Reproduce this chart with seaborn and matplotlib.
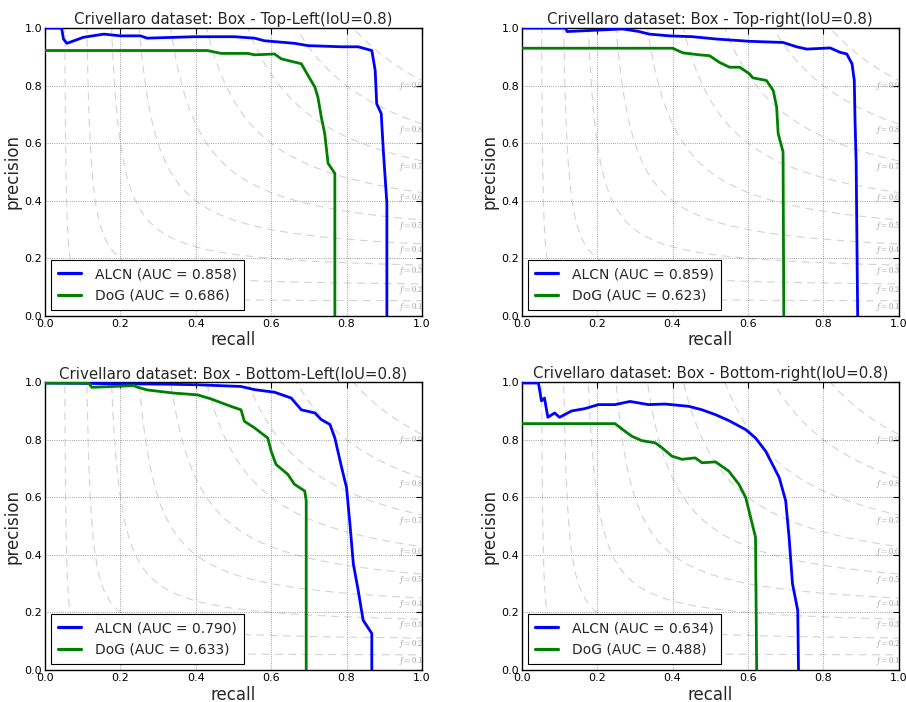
import numpy as np
import pandas as pd
import seaborn as sns
import matplotlib.pyplot as plt

titles = ["Crivellaro dataset: Box - Top-Left(IoU=0.8)",
          "Crivellaro dataset: Box - Top-right(IoU=0.8)",
          "Crivellaro dataset: Box - Bottom-Left(IoU=0.8)",
          "Crivellaro dataset: Box - Bottom-right(IoU=0.8)"]
alcn_auc = [0.858, 0.859, 0.790, 0.634]
dog_auc = [0.686, 0.623, 0.633, 0.488]
f_scores = [0.1, 0.2, 0.3, 0.4, 0.5, 0.6, 0.7, 0.8, 0.9]

# top-left
tl_alcn_r = [0, 0.044, 0.049, 0.058, 0.102, 0.156, 0.2, 0.253, 0.271, 0.396, 0.502, 0.556,
             0.582, 0.662, 0.698, 0.787, 0.831, 0.867, 0.876, 0.88, 0.892, 0.898, 0.907, 0.907]
tl_alcn_p = [1.0, 1.0, 0.962, 0.947, 0.968, 0.979, 0.973, 0.973, 0.965, 0.97, 0.97, 0.965,
             0.956, 0.947, 0.939, 0.935, 0.935, 0.922, 0.853, 0.737, 0.703, 0.565, 0.392, 0.0]
tl_dog_r = [0, 0.431, 0.467, 0.538, 0.556, 0.609, 0.627, 0.68, 0.698, 0.716, 0.724, 0.733,
            0.742, 0.751, 0.769, 0.769]
tl_dog_p = [0.922, 0.922, 0.912, 0.912, 0.907, 0.91, 0.893, 0.876, 0.835, 0.795, 0.76, 0.691,
            0.634, 0.53, 0.495, 0.0]

# top-right
tr_alcn_r = [0, 0.116, 0.12, 0.204, 0.267, 0.311, 0.338, 0.391, 0.453, 0.516, 0.604, 0.693,
             0.729, 0.756, 0.818, 0.844, 0.862, 0.876, 0.882, 0.884, 0.887, 0.891]
tr_alcn_p = [1.0, 1.0, 0.988, 0.993, 0.997, 0.988, 0.979, 0.973, 0.97, 0.962, 0.954, 0.95,
             0.935, 0.927, 0.931, 0.916, 0.91, 0.876, 0.818, 0.68, 0.53, 0.0]
tr_dog_r = [0, 0.4, 0.427, 0.471, 0.498, 0.524, 0.551, 0.578, 0.604, 0.613, 0.649, 0.667,
            0.676, 0.68, 0.693, 0.695]
tr_dog_p = [0.93, 0.93, 0.914, 0.907, 0.904, 0.881, 0.864, 0.864, 0.841, 0.827, 0.818, 0.783,
            0.726, 0.634, 0.57, 0.0]

# bottom-left
bl_alcn_r = [0, 0.324, 0.404, 0.52, 0.556, 0.609, 0.653, 0.68, 0.716, 0.733, 0.756, 0.769,
             0.787, 0.8, 0.809, 0.818, 0.831, 0.844, 0.867, 0.867]
bl_alcn_p = [0.997, 0.993, 0.991, 0.985, 0.974, 0.965, 0.945, 0.904, 0.893, 0.87, 0.853, 0.806,
             0.703, 0.634, 0.507, 0.369, 0.276, 0.173, 0.127, 0.0]
bl_dog_r = [0, 0.116, 0.124, 0.236, 0.244, 0.271, 0.342, 0.404, 0.44, 0.493, 0.52, 0.529,
            0.556, 0.591, 0.6, 0.613, 0.644, 0.662, 0.689, 0.693, 0.693]
bl_dog_p = [0.997, 0.997, 0.982, 0.988, 0.983, 0.973, 0.962, 0.956, 0.942, 0.916, 0.904, 0.864,
            0.841, 0.806, 0.76, 0.714, 0.68, 0.645, 0.622, 0.588, 0.0]

# bottom-right
br_alcn_r = [0, 0.044, 0.052, 0.06, 0.069, 0.087, 0.1, 0.132, 0.167, 0.203, 0.247, 0.287,
             0.336, 0.38, 0.443, 0.478, 0.514, 0.55, 0.594, 0.62, 0.647, 0.683, 0.7, 0.709,
             0.718, 0.732, 0.734]
br_alcn_p = [0.997, 0.997, 0.935, 0.945, 0.878, 0.893, 0.878, 0.9, 0.908, 0.922, 0.922, 0.933,
             0.922, 0.924, 0.916, 0.904, 0.887, 0.866, 0.835, 0.806, 0.76, 0.668, 0.588, 0.461,
             0.3, 0.207, 0.0]
br_dog_r = [0, 0.247, 0.274, 0.292, 0.318, 0.354, 0.372, 0.398, 0.425, 0.46, 0.478, 0.514,
            0.549, 0.576, 0.594, 0.607, 0.62, 0.623]
br_dog_p = [0.856, 0.856, 0.829, 0.812, 0.797, 0.789, 0.772, 0.743, 0.732, 0.737, 0.72, 0.723,
            0.691, 0.645, 0.599, 0.53, 0.461, 0.0]

curves = [(tl_alcn_r, tl_alcn_p, tl_dog_r, tl_dog_p),
          (tr_alcn_r, tr_alcn_p, tr_dog_r, tr_dog_p),
          (bl_alcn_r, bl_alcn_p, bl_dog_r, bl_dog_p),
          (br_alcn_r, br_alcn_p, br_dog_r, br_dog_p)]

sns.set_style("white")
plt.rcParams["font.family"] = ["DejaVu Sans"]

fig, axes = plt.subplots(2, 2, figsize=(9.06, 7.02), dpi=100)
positions = [[0.0497, 0.550, 0.416, 0.410], [0.576, 0.550, 0.416, 0.410],
             [0.0497, 0.0456, 0.416, 0.410], [0.576, 0.0456, 0.416, 0.410]]

for i, ax in enumerate(axes.flat):
    ax.set_position(positions[i])
    ar, ap, dr, dp = curves[i]

    # iso-f curves
    for f in f_scores:
        x = np.linspace(0.01, 1, 3000)
        y = f * x / (2 * x - f)
        keep = (y >= 0) & (y <= 30)
        ax.plot(x[keep], y[keep], color="gray", alpha=0.35, lw=0.8, ls=(0, (7, 5)), zorder=1)
        ax.text(0.936, f / (2 - f) - 0.02, "$f=%.1f$" % f, fontsize=6, color="gray",
                alpha=0.8, va="center", ha="left", clip_on=True, math_fontfamily="cm")

    la = "ALCN (AUC = %.3f)" % alcn_auc[i]
    ld = "DoG (AUC = %.3f)" % dog_auc[i]
    df = pd.DataFrame({"recall": list(ar) + list(dr),
                       "precision": list(ap) + list(dp),
                       "method": [la] * len(ar) + [ld] * len(dr)})
    sns.lineplot(data=df, x="recall", y="precision", hue="method",
                 palette={la: "#0000ff", ld: "#008000"}, sort=False, estimator=None,
                 lw=2, ax=ax, zorder=3)

    ax.set_xlim(0, 1)
    ax.set_ylim(0, 1)
    ax.set_xticks(np.arange(0, 1.01, 0.2))
    ax.set_yticks(np.arange(0, 1.01, 0.2))
    ax.grid(True, ls=":", color="k", lw=0.6, alpha=0.5)
    ax.tick_params(direction="in", top=True, right=True, length=4, width=0.8,
                   labelsize=8, pad=2, colors="k")
    for s in ax.spines.values():
        s.set_color("k")
        s.set_linewidth(1)
    ax.set_title(titles[i], fontsize=10.8, pad=3)
    ax.set_xlabel("recall", fontsize=12, labelpad=2)
    ax.set_ylabel("precision", fontsize=12, labelpad=2)
    h, l = ax.get_legend_handles_labels()
    leg = ax.legend(h, l, loc="lower left", fontsize=10, fancybox=False,
                    edgecolor="k", framealpha=1, borderaxespad=0.45, borderpad=0.5,
                    handlelength=1.65, handletextpad=1.0, labelspacing=0.55)
    leg.get_frame().set_linewidth(0.8)
    for line in leg.get_lines():
        line.set_linewidth(2.3)

fig.savefig("out.png", dpi=100)
